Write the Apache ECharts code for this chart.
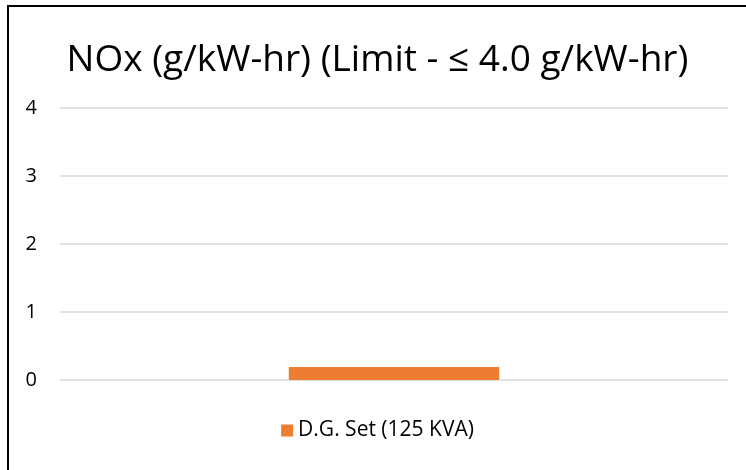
<!DOCTYPE html>
<html>
<head>
<meta charset="utf-8">
<script src="https://cdn.jsdelivr.net/npm/echarts@6/dist/echarts.min.js"></script>
<style>
  html, body { margin: 0; padding: 0; background: #fff; }
  #frame {
    position: absolute; left: 7px; top: 5px; width: 739px; height: 465px;
    border-left: 2px solid #000; border-top: 2px solid #000;
  }
  #chart { width: 737px; height: 463px; }
</style>
</head>
<body>
<div id="frame"><div id="chart"></div></div>
<script>
// 数据
const categories = ['NOx']
const seriesName = 'D.G. Set (125 KVA)'
const noxValues = [0.19]
const yTicks = [0, 1, 2, 3, 4]

const chart = echarts.init(document.getElementById('chart'))

chart.setOption({
  animation: false,
  title: {
    text: 'NOx (g/kW-hr) (Limit - ≤ 4.0 g/kW-hr)',
    left: 'center',
    top: 30,
    textStyle: {
      fontFamily: 'Open Sans',
      fontSize: 37,
      fontWeight: 'normal',
      color: '#000'
    }
  },
  legend: {
    data: [seriesName],
    bottom: 24,
    left: 'center',
    itemWidth: 12,
    itemHeight: 12,
    itemGap: 5,
    icon: 'rect',
    textStyle: {
      fontFamily: 'Open Sans',
      fontSize: 21,
      color: '#000'
    }
  },
  grid: {
    left: 51,
    right: 18,
    top: 101,
    bottom: 90
  },
  xAxis: {
    type: 'category',
    data: categories,
    axisLine: { show: false },
    axisTick: { show: false },
    axisLabel: { show: false }
  },
  yAxis: {
    type: 'value',
    min: yTicks[0],
    max: yTicks[yTicks.length - 1],
    interval: 1,
    axisLine: { show: false },
    axisTick: { show: false },
    axisLabel: {
      margin: 23,
      fontFamily: 'Open Sans',
      fontSize: 20,
      color: '#000'
    },
    splitLine: {
      lineStyle: { color: '#d9d9d9', width: 1.5 }
    }
  },
  series: [
    {
      name: seriesName,
      type: 'bar',
      data: noxValues,
      barWidth: '31.5%',
      itemStyle: { color: '#ed7d31' }
    }
  ]
})
</script>
</body>
</html>
